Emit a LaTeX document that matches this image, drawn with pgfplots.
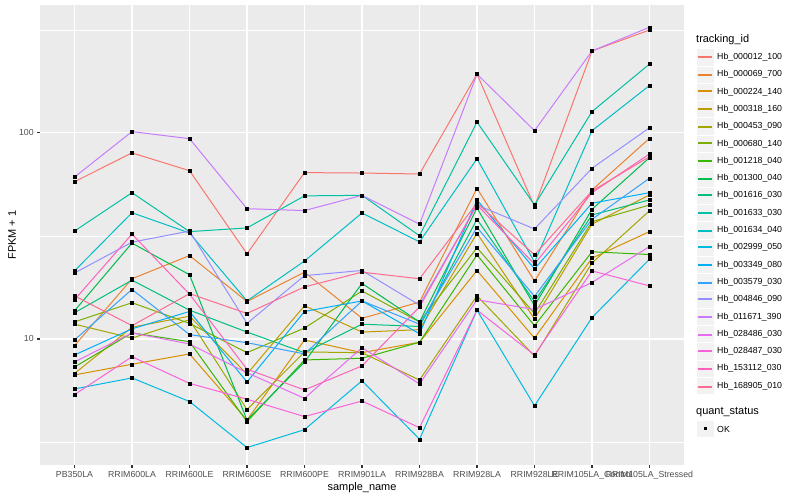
\documentclass[border=0pt]{standalone}
\usepackage{fontspec}
\setmainfont{Liberation Sans}
\usepackage{pgfplots}
\usepackage{pgfplotstable}
\pgfplotsset{compat=1.18}
\definecolor{c1}{HTML}{F8766D}
\definecolor{c2}{HTML}{EA8331}
\definecolor{c3}{HTML}{D89000}
\definecolor{c4}{HTML}{C09B00}
\definecolor{c5}{HTML}{A3A500}
\definecolor{c6}{HTML}{7CAE00}
\definecolor{c7}{HTML}{39B600}
\definecolor{c8}{HTML}{00BB4E}
\definecolor{c9}{HTML}{00BF7D}
\definecolor{c10}{HTML}{00C1A3}
\definecolor{c11}{HTML}{00BFC4}
\definecolor{c12}{HTML}{00BAE0}
\definecolor{c13}{HTML}{00B0F6}
\definecolor{c14}{HTML}{35A2FF}
\definecolor{c15}{HTML}{9590FF}
\definecolor{c16}{HTML}{C77CFF}
\definecolor{c17}{HTML}{E76BF3}
\definecolor{c18}{HTML}{FA62DB}
\definecolor{c19}{HTML}{FF62BC}
\definecolor{c20}{HTML}{FF6C91}
\definecolor{ggbg}{HTML}{EBEBEB}
\definecolor{gkey}{HTML}{F2F2F2}
\definecolor{g30}{HTML}{4D4D4D}
\definecolor{g20}{HTML}{333333}

\pgfplotstableread{
x  s1   s2   s3   s4   s5   s6   s7   s8   s9   s10  s11  s12  s13  s14  s15  s16   s17  s18  s19  s20
0  58.0 9.28 6.69 6.80 11.8 12.1 7.31 13.7 13.4 33.4 21.4 5.72 8.36 9.89 20.9 61.1  7.73 5.37 15.5 16.2
1  80.0 19.6 7.54 11.4 10.1 15.0 10.7 29.2 19.3 51.3 41.0 6.47 11.2 17.4 29.5 101.5 10.7 8.20 32.3 11.6
2  65.6 25.4 8.46 12.9 12.4 11.9 9.70 20.5 13.8 33.2 32.7 4.97 13.6 10.5 33.4 93.8  9.46 6.09 16.5 16.6
3  25.9 15.2 4.04 6.76 4.54 8.58 3.97 4.04 10.8 34.6 15.3 2.97 6.18 9.59 11.9 42.9  6.86 5.10 7.13 13.3
4  64.2 21.1 9.89 14.5 8.65 11.3 7.91 7.73 8.58 49.5 23.9 3.63 13.6 8.46 20.3 42.0  5.15 4.20 5.66 17.9
5  63.9 12.6 8.58 10.8 8.58 17.1 8.06 18.6 11.8 49.8 40.9 6.27 15.3 15.3 21.5 49.8  9.07 5.00 7.40 21.1
6  63.2 15.1 9.64 11.1 6.32 12.1 9.64 12.1 11.5 31.7 29.6 3.26 10.6 11.8 14.6 36.1  6.05 3.71 14.3 19.6
7  193  53.9 21.5 32.6 16.2 27.7 25.6 43.2 38.1 113  75.0 13.8 47.3 34.8 44.7 193   15.5 13.8 44.7 45.7
8  43.9 19.1 10.1 12.5 8.27 13.3 11.6 14.5 15.2 44.7 23.6 4.74 21.9 16.1 34.2 102.6 13.9 8.36 23.1 25.6
9  250  52.9 24.7 36.1 23.4 37.1 26.5 42.6 40.0 127  102.6 12.7 45.6 38.1 67.4 250  18.8 21.4 51.3 52.3
10 316  94.2 33.2 50.0 41.9 44.7 25.7 75.9 47.3 216  170  24.4 51.3 60.3 106  326   28.1 18.1 79.1 76.7
}\fpkm

\begin{document}
\begin{tikzpicture}[x=1bp,y=1bp]
\path[use as bounding box] (0,0) rectangle (800,500);
\begin{axis}[
  at={(40bp,35bp)}, anchor=south west,
  scale only axis, width=644bp, height=460bp,
  xmin=-0.6, xmax=10.6,
  ymode=log, log basis y=10, ymin=2.445, ymax=418,
  axis background/.style={fill=ggbg},
  axis line style={draw=none},
  xtick={0,1,2,3,4,5,6,7,8,9,10},
  xticklabels={PB350LA,RRIM600LA,RRIM600LE,RRIM600SE,RRIM600PE,RRIM901LA,RRIM928BA,RRIM928LA,RRIM928LE,RRIM105LA\_Control,RRIM105LA\_Stressed},
  ytick={10,100}, yticklabels={10,100},
  minor ytick={3.1623,31.623,316.23},
  xmajorgrids, ymajorgrids, yminorgrids,
  major grid style={white, line width=1.07bp},
  minor grid style={white, line width=0.53bp},
  tick align=outside, tick pos=left,
  major tick length=2.75bp, minor tick length=0pt,
  tick style={g20, line width=1.07bp},
  /pgf/number format/assume math mode=true,
  ticklabel style={font=\fontsize{8.8}{10}\selectfont, text=g30},
  every axis x label/.style={at={(axis description cs:0.5,-0.05)}, anchor=center, font=\fontsize{11}{13}\selectfont},
  every axis y label/.style={at={(axis description cs:-0.0435,0.5)}, anchor=center, rotate=90, font=\fontsize{11}{13}\selectfont},
  xlabel={sample\_name}, ylabel={FPKM + 1},
]
\pgfplotsinvokeforeach{1,...,20}{
  \addplot[color=c#1, line width=1bp, forget plot] table[x=x, y=s#1] {\fpkm};
}
\pgfplotsinvokeforeach{1,...,20}{
  \addplot[only marks, mark=square*, mark size=1.5bp, black, forget plot] table[x=x, y=s#1] {\fpkm};
}
\end{axis}
% legend
\node[anchor=west, font=\fontsize{11}{13}\selectfont, inner sep=0pt] at (696,460) {tracking\_id};
\foreach \i/\lab in {1/000012\_100,2/000069\_700,3/000224\_140,4/000318\_160,5/000453\_090,6/000680\_140,7/001218\_040,8/001300\_040,9/001616\_030,10/001633\_030,11/001634\_040,12/002999\_050,13/003349\_080,14/003579\_030,15/004846\_090,16/011671\_390,17/028486\_030,18/028487\_030,19/153112\_030,20/168905\_010}{
  \pgfmathsetmacro{\yc}{500-57.3-17.3*(\i-1)}
  \pgfmathsetmacro{\rr}{2*round((57.3+17.3*(\i-1)-1)/2)}
  \fill[gkey, draw=white, line width=0.8bp] (696.6,\yc-8.65) rectangle (713.9,\yc+8.65);
  \fill[c\i] (698,498-\rr) rectangle (712,500-\rr);
  \node[anchor=west, font=\fontsize{8.8}{10}\selectfont, inner sep=0pt] at (717,\yc) {Hb\_\lab};
}
\node[anchor=west, font=\fontsize{11}{13}\selectfont, inner sep=0pt] at (696,88) {quant\_status};
\fill[gkey, draw=white, line width=0.8bp] (696.6,71-8.65) rectangle (713.9,71+8.65);
\fill[black] (703.5,69.5) rectangle (706.5,72.5);
\node[anchor=west, font=\fontsize{8.8}{10}\selectfont, inner sep=0pt] at (717,71) {OK};
\end{tikzpicture}
\end{document}
